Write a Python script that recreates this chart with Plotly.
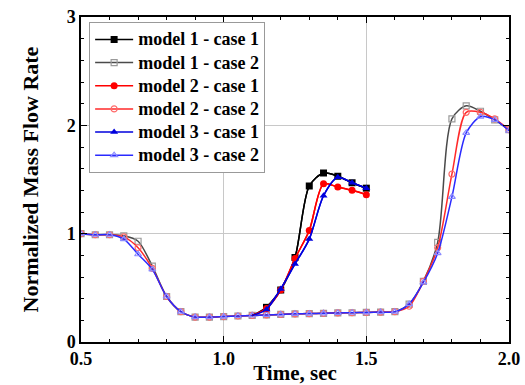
import plotly.graph_objects as go

# ---- data ----
t_case2 = [0.50, 0.55, 0.60, 0.65, 0.70, 0.75, 0.80, 0.85, 0.90, 0.95, 1.00,
           1.05, 1.10, 1.15, 1.20, 1.25, 1.30, 1.35, 1.40, 1.45, 1.50,
           1.55, 1.60, 1.65, 1.70, 1.75, 1.80, 1.85, 1.90, 1.95, 2.00]
m1_case2 = [1.00, 0.99, 0.99, 0.98, 0.93, 0.70, 0.42, 0.28, 0.23, 0.23, 0.235,
            0.24, 0.245, 0.25, 0.255, 0.26, 0.262, 0.265, 0.268, 0.27, 0.273,
            0.276, 0.28, 0.35, 0.56, 0.92, 2.06, 2.18, 2.13, 2.05, 1.96]
m2_case2 = [1.00, 0.99, 0.99, 0.97, 0.87, 0.68, 0.42, 0.28, 0.23, 0.23, 0.235,
            0.24, 0.245, 0.25, 0.255, 0.26, 0.262, 0.265, 0.268, 0.27, 0.273,
            0.276, 0.28, 0.33, 0.56, 0.87, 1.55, 2.12, 2.12, 2.06, 1.96]
m3_case2 = [1.00, 0.99, 0.99, 0.95, 0.81, 0.67, 0.42, 0.28, 0.23, 0.23, 0.235,
            0.24, 0.245, 0.25, 0.255, 0.26, 0.262, 0.265, 0.268, 0.27, 0.273,
            0.276, 0.28, 0.35, 0.55, 0.82, 1.34, 1.93, 2.08, 2.05, 1.95]

t_case1 = [1.10, 1.15, 1.20, 1.25, 1.30, 1.35, 1.40, 1.45, 1.50]
m1_case1 = [0.245, 0.32, 0.48, 0.78, 1.44, 1.56, 1.53, 1.47, 1.42]
m2_case1 = [0.245, 0.31, 0.48, 0.77, 1.03, 1.46, 1.43, 1.40, 1.36]
m3_case1 = [0.245, 0.30, 0.49, 0.72, 0.95, 1.35, 1.52, 1.47, 1.42]

x_ticks = [0.5, 1.0, 1.5, 2.0]
y_ticks = [0, 1, 2, 3]

SERIF = "Liberation Serif"


def legend_label(s):
    return f'<span style="font-size:18px">{s}</span>'


fig = go.Figure()

case2 = [
    ("model 1 - case 2", m1_case2, "#4a4a4a", "#9a9a9a", "square-open", 2),
    ("model 2 - case 2", m2_case2, "#ff2a2a", "#ff6a6a", "circle-open", 4),
    ("model 3 - case 2", m3_case2, "#2a2aff", "#8a8aff", "triangle-up-open", 6),
]
case1 = [
    ("model 1 - case 1", m1_case1, "#000000", "square", 1),
    ("model 2 - case 1", m2_case1, "#ff0000", "circle", 3),
    ("model 3 - case 1", m3_case1, "#0000dd", "triangle-up", 5),
]

for name, ys, lc, mc, sym, rank in case2:
    fig.add_trace(go.Scatter(
        x=t_case2, y=ys, name=legend_label(name), mode="lines+markers",
        line=dict(color=lc, width=1.5, shape="spline", smoothing=0.8),
        marker=dict(symbol=sym, size=6, color=mc, line=dict(width=1.2, color=mc)),
        legendrank=rank))

for name, ys, c, sym, rank in case1:
    # connecting line from the plateau (no marker at the branching point)
    fig.add_trace(go.Scatter(
        x=t_case1, y=ys, mode="lines", showlegend=False, hoverinfo="skip",
        line=dict(color=c, width=1.5, shape="spline", smoothing=0.8)))
    fig.add_trace(go.Scatter(
        x=t_case1[1:], y=ys[1:], name=legend_label(name), mode="lines+markers",
        line=dict(color=c, width=1.5, shape="spline", smoothing=0.8),
        marker=dict(symbol=sym, size=7, color=c),
        legendrank=rank))

axis_common = dict(
    showline=True, linecolor="black", linewidth=1.5, mirror="ticks",
    ticks="inside", ticklen=6, tickwidth=1, tickcolor="black",
    showgrid=True, gridcolor="#c8c8c8", gridwidth=1, zeroline=False,
    automargin=False,
    tickfont=dict(family=SERIF, size=18, color="black", weight="bold"),
)

fig.update_xaxes(
    range=[0.5, 2.0], tickvals=x_ticks, ticktext=[f"{v:.1f}" for v in x_ticks],
    minor=dict(ticks="inside", dtick=0.1, tick0=0.5, ticklen=3, tickcolor="black", showgrid=False),
    title=dict(text="Time, sec", font=dict(family=SERIF, size=21, color="black", weight="bold"), standoff=2),
    **axis_common)
fig.update_yaxes(
    range=[0, 3], tickvals=y_ticks, ticktext=[str(v) for v in y_ticks],
    minor=dict(ticks="inside", dtick=0.2, tick0=0, ticklen=3, tickcolor="black", showgrid=False),
    title=dict(text="Normalized Mass Flow Rate", font=dict(family=SERIF, size=22, color="black", weight="bold"), standoff=22),
    **axis_common)

fig.update_layout(
    width=525, height=385,
    margin=dict(l=81, r=16, t=17, b=43),
    paper_bgcolor="white", plot_bgcolor="white",
    showlegend=True,
    legend=dict(x=0.019, y=0.985, xanchor="left", yanchor="top",
                bgcolor="white", bordercolor="#999999", borderwidth=1,
                font=dict(family=SERIF, size=15.5, color="black", weight="bold"),
                tracegroupgap=0, itemwidth=38),
)

fig.write_html("out.html", config={"displayModeBar": False},
               post_script="document.body.style.margin='0px';")
